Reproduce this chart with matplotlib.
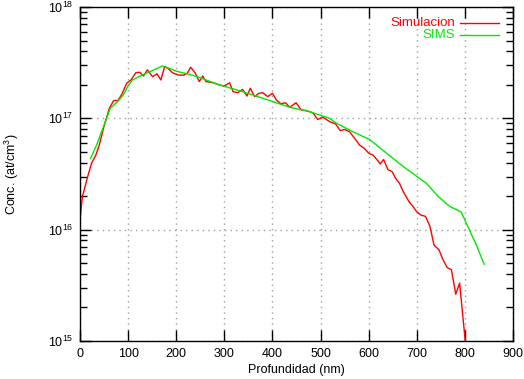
import numpy as np
import matplotlib
matplotlib.use("Agg")
import matplotlib.pyplot as plt
from matplotlib.ticker import LogLocator, FixedLocator, NullFormatter

plt.rcParams['font.family'] = ['Liberation Sans', 'DejaVu Sans']
plt.rcParams['mathtext.fontset'] = 'custom'
plt.rcParams['mathtext.rm'] = 'Liberation Sans'
plt.rcParams['mathtext.it'] = 'Liberation Sans'

# Simulacion (depth nm, log10 conc)
sim_x = [0, 5, 16, 24, 33, 40, 50, 61, 70, 79, 88, 97, 106, 116, 124, 132, 140,
         151, 160, 168, 176, 183, 192, 203, 215, 223, 230, 239, 248, 255, 262,
         276, 290, 300, 311, 318, 328, 338, 347, 354, 363, 372, 380, 390, 400,
         408, 418, 427, 436, 449, 460, 470, 484, 494, 505, 519, 531, 541, 550,
         560, 571, 581, 591, 600, 609, 619, 624, 631, 640, 649, 656, 664, 672,
         684, 692, 700, 709, 718, 727, 736, 746, 754, 763, 772, 781, 789, 801]
sim_log = [16.094, 16.297, 16.477, 16.597, 16.67, 16.76, 16.93, 17.09, 17.16,
           17.16, 17.225, 17.315, 17.345, 17.41, 17.414, 17.38, 17.435, 17.374,
           17.40, 17.345, 17.464, 17.45, 17.41, 17.39, 17.387, 17.405, 17.459,
           17.41, 17.33, 17.38, 17.33, 17.32, 17.30, 17.29, 17.32, 17.24, 17.23,
           17.26, 17.20, 17.27, 17.195, 17.225, 17.23, 17.195, 17.225, 17.165,
           17.13, 17.14, 17.10, 17.14, 17.075, 17.07, 17.05, 16.99, 17.01,
           16.97, 16.95, 16.89, 16.90, 16.88, 16.82, 16.76, 16.73, 16.687,
           16.67, 16.62, 16.59, 16.63, 16.54, 16.52, 16.46, 16.417, 16.34,
           16.25, 16.21, 16.16, 16.13, 16.12, 16.034, 15.86, 15.82, 15.735,
           15.66, 15.64, 15.42, 15.52, 14.99]

# SIMS
sims_x = [22, 36, 50, 63, 78, 90, 99, 109, 130, 151, 171, 185, 203, 223, 244,
          265, 290, 338, 387, 436, 477, 519, 533, 567, 602, 637, 671, 706, 720,
          744, 768, 792, 806, 824, 840]
sims_log = [16.64, 16.776, 16.94, 17.09, 17.15, 17.21, 17.285, 17.345, 17.39,
            17.43, 17.47, 17.45, 17.42, 17.40, 17.374, 17.34, 17.30, 17.24,
            17.17, 17.10, 17.06, 17.00, 16.956, 16.88, 16.81, 16.687, 16.57,
            16.46, 16.417, 16.30, 16.21, 16.16, 16.03, 15.86, 15.69]

fig = plt.figure(figsize=(5.24, 3.79), dpi=100)
ax = fig.add_axes([80 / 524, 38 / 379, 433 / 524, 334 / 379])

ax.plot(sim_x, 10 ** np.array(sim_log), color='#ff0000', lw=1.0)
ax.plot(sims_x, 10 ** np.array(sims_log), color='#00e800', lw=1.0)

ax.set_yscale('log')
ax.set_xlim(0, 900)
ax.set_ylim(1e15, 1e18)
ax.xaxis.set_major_locator(FixedLocator(range(0, 1000, 100)))
ax.yaxis.set_major_locator(LogLocator(base=10, numticks=10))
ax.yaxis.set_minor_locator(LogLocator(base=10, subs=np.arange(2, 10), numticks=20))
ax.yaxis.set_minor_formatter(NullFormatter())

ax.tick_params(which='both', direction='in', top=True, right=True,
               labelsize=9, width=1, pad=5)
ax.tick_params(which='major', length=8)
ax.tick_params(which='minor', length=5)
for s in ax.spines.values():
    s.set_linewidth(1.0)

ax.grid(True, which='major', color='#a0a0a0', linestyle=(0, (1, 3)), lw=1)

ax.set_xlabel('Profundidad (nm)', fontsize=9, labelpad=3)
ax.set_ylabel('Conc. (at/cm$^3$)', fontsize=9, labelpad=19)

# legend in gnuplot style
ax.text(455 / 524, 1 - 23 / 379, 'Simulacion', color='#ff0000', fontsize=9.5,
        ha='right', va='center', transform=fig.transFigure)
ax.text(455 / 524, 1 - 35 / 379, 'SIMS', color='#00e800', fontsize=9.5,
        ha='right', va='center', transform=fig.transFigure)
ax.plot([460 / 524, 499 / 524], [1 - 23 / 379] * 2, color='#ff0000', lw=1,
        transform=fig.transFigure, clip_on=False)
ax.plot([460 / 524, 499 / 524], [1 - 35 / 379] * 2, color='#00e800', lw=1,
        transform=fig.transFigure, clip_on=False)

fig.savefig('out.png', dpi=100)
